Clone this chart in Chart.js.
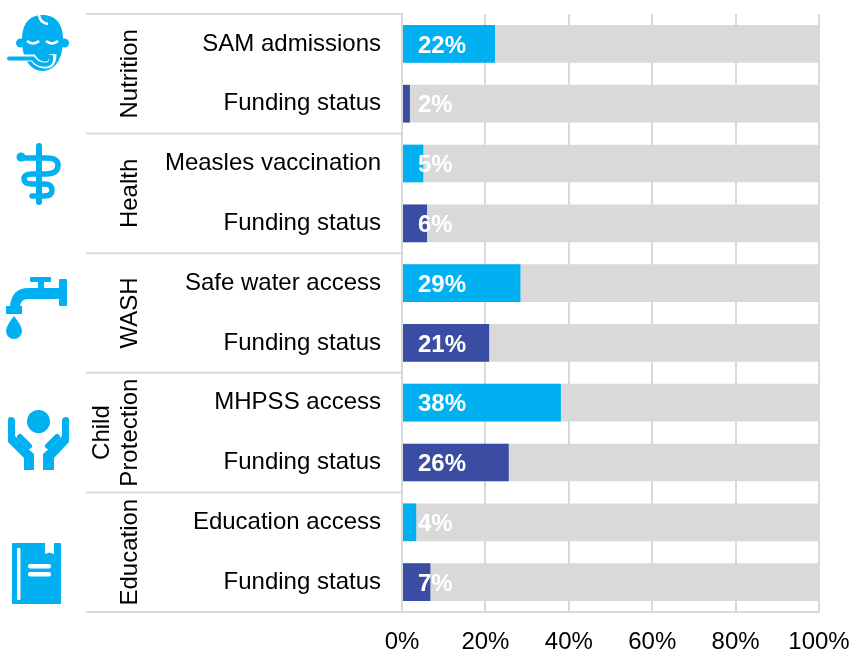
<!DOCTYPE html>
<html>
<head>
<meta charset="utf-8">
<style>
  body { margin: 0; background: #fff; }
  #wrap { position: relative; width: 851px; height: 649px; overflow: hidden; }
  #myChart { display: block; }
  #icons { position: absolute; left: 0; top: 0; }
</style>
<script src="https://cdn.jsdelivr.net/npm/chart.js@4"></script>
</head>
<body>
<div id="wrap">
  <canvas id="myChart" width="851" height="649"></canvas>
  <!-- iconos de cada sector -->
  <svg id="icons" width="100" height="649" fill="#00B0F0">
    <!-- baby -->
    <circle cx="20.500" cy="43" r="4.500"/><circle cx="64.500" cy="43" r="4.500"/>
    <path d="M42.500 15 C56 15 63 24 63 40 C63 60 54 71 42.500 71 C31 71 22 60 22 40 C22 24 29 15 42.500 15 Z"/>
    <path d="M39 15 q1 8 9 9" fill="none" stroke="#fff" stroke-width="2.500"/>
    <path d="M27 41 q6 5 12 0 M46 41 q6 5 12 0" fill="none" stroke="#fff" stroke-width="2.500"/>
    <path d="M5 58 H33 q5 8 14 7 q6 -1 6 -11" fill="none" stroke="#fff" stroke-width="7"/>
    <path d="M9 58.500 H33 q5 7 14 6 q5 -1 4 -8" fill="none" stroke="#00B0F0" stroke-width="4" stroke-linecap="round"/>
    <!-- rod of asclepius -->
    <g fill="none" stroke="#00B0F0" stroke-linecap="round">
      <path d="M39 146 V202" stroke-width="6"/>
      <path d="M21 158 H46 q12 0 12 7 q0 9 -12 9 H32 q-8 0 -8 5 q0 5 8 5 H44 q8 0 8 6 q0 6 -8 6 H32" stroke-width="5.500"/>
    </g>
    <circle cx="21" cy="157" r="4.500"/>
    <!-- tap -->
    <rect x="30" y="277" width="21" height="5" rx="1"/>
    <rect x="38" y="279" width="6" height="12"/>
    <rect x="59" y="279" width="8" height="27" rx="1"/>
    <path d="M60 288 H28 q-16 0 -18 18 h-4 v8 h16 v-8 h-2 q1 -7 8 -7 H60 Z"/>
    <path d="M14 316 q8 10 8 15 a8 8 0 0 1 -16 0 q0 -5 8 -15 Z"/>
    <!-- hands -->
    <circle cx="38.500" cy="421.500" r="11.500"/>
    <path d="M8 420 q0 -3 3 -3 t4 3 V436 l9 9 l10 9 v16 H24 V458 L8 442 Z"/>
    <path d="M69 420 q0 -3 -3 -3 t-4 3 V436 l-9 9 l-10 9 v16 H54 V458 L69 442 Z"/>
    <path d="M20 437 l9 9 M57 437 l-9 9" stroke="#00B0F0" stroke-width="6" stroke-linecap="round"/>
    <!-- book -->
    <rect x="12" y="543" width="49" height="61" rx="1"/>
    <path d="M45 543 h9 v11 l-4.500 -1.500 l-4.500 1.500 Z" fill="#fff"/>
    <rect x="17" y="548" width="3.500" height="52" rx="1" fill="#fff"/>
    <rect x="28" y="564" width="23" height="4.500" rx="2" fill="#fff"/>
    <rect x="28" y="572" width="23" height="4.500" rx="2" fill="#fff"/>
  </svg>
</div>
<script>
const categorias = ['SAM admissions', 'Funding status', 'Measles vaccination', 'Funding status', 'Safe water access',
  'Funding status', 'MHPSS access', 'Funding status', 'Education access', 'Funding status'];
const valores = [22.3, 1.9, 5.1, 6, 28.4, 20.9, 38.1, 25.6, 3.4, 6.8];
const etiquetas = ['22%', '2%', '5%', '6%', '29%', '21%', '38%', '26%', '4%', '7%'];
const fondo = [100, 100, 100, 100, 100, 100, 100, 100, 100, 100];
const sectores = [['Nutrition'], ['Health'], ['WASH'], ['Child', 'Protection'], ['Education']];
const ticksX = [0, 20, 40, 60, 80, 100];

const CYAN = '#00B0F0';
const AZUL = '#3A4DA2';
const GRIS = '#D9D9D9';
const FUENTE = '"Liberation Sans", Arial, sans-serif';

// colores alternos: indicador en cyan, funding en azul
const coloresBarra = valores.map((v, i) => i % 2 === 0 ? CYAN : AZUL);

// lineas de grupo y nombres de sector a la izquierda del eje
const pluginSectores = {
  id: 'sectores',
  afterDraw(chart) {
    const { ctx, scales: { y }, chartArea } = chart;
    ctx.save();
    ctx.strokeStyle = GRIS;
    ctx.lineWidth = 2;
    for (let i = 0; i <= sectores.length; i++) {
      const yPos = y.getPixelForValue(i * 2 - 0.5);
      ctx.beginPath();
      ctx.moveTo(86, yPos);
      ctx.lineTo(chartArea.left, yPos);
      ctx.stroke();
    }
    ctx.fillStyle = '#000';
    ctx.font = '24px ' + FUENTE;
    ctx.textAlign = 'center';
    ctx.textBaseline = 'middle';
    sectores.forEach((lineas, i) => {
      const centro = y.getPixelForValue(i * 2 + 0.5);
      lineas.forEach((txt, j) => {
        const xPos = 130 - (lineas.length - 1 - j) * 28;
        ctx.save();
        ctx.translate(xPos, centro);
        ctx.rotate(-Math.PI / 2);
        ctx.fillText(txt, 0, 0);
        ctx.restore();
      });
    });
    ctx.restore();
  }
};

// etiquetas blancas, todas alineadas al mismo x
const pluginEtiquetas = {
  id: 'etiquetas',
  afterDatasetsDraw(chart) {
    const { ctx, scales: { y }, chartArea } = chart;
    ctx.save();
    ctx.fillStyle = '#fff';
    ctx.font = 'bold 24px ' + FUENTE;
    ctx.textAlign = 'left';
    ctx.textBaseline = 'middle';
    etiquetas.forEach((txt, i) => {
      ctx.fillText(txt, chartArea.left + 16, y.getPixelForValue(i) + 2);
    });
    ctx.restore();
  }
};

new Chart(document.getElementById('myChart'), {
  type: 'bar',
  data: {
    labels: categorias,
    datasets: [
      { data: valores, backgroundColor: coloresBarra, grouped: false, order: 1, barPercentage: 0.63, categoryPercentage: 1 },
      { data: fondo, backgroundColor: GRIS, grouped: false, order: 2, barPercentage: 0.63, categoryPercentage: 1 }
    ]
  },
  options: {
    indexAxis: 'y',
    responsive: false,
    animation: false,
    layout: { padding: { top: 14, right: 32, left: 0, bottom: 0 } },
    plugins: { legend: { display: false }, tooltip: { enabled: false } },
    scales: {
      x: {
        min: 0,
        max: 100,
        afterBuildTicks(axis) { axis.ticks = ticksX.map(v => ({ value: v })); },
        afterFit(axis) {
          axis.height = 37;
          axis.paddingLeft = 0;
          axis.paddingRight = 0;
        },
        grid: { color: GRIS, lineWidth: 2, drawTicks: false },
        border: { color: GRIS, width: 2 },
        ticks: {
          padding: 16,
          maxRotation: 0,
          color: '#000',
          font: { family: FUENTE, size: 24 },
          callback: v => v + '%'
        }
      },
      y: {
        afterFit(axis) {
          axis.width = 402;
          axis.paddingTop = 0;
          axis.paddingBottom = 0;
        },
        grid: { display: false, drawTicks: false },
        border: { color: GRIS, width: 2 },
        ticks: {
          padding: 21,
          color: '#000',
          autoSkip: false,
          font: { family: FUENTE, size: 24 }
        }
      }
    }
  },
  plugins: [pluginSectores, pluginEtiquetas]
});
</script>
</body>
</html>
